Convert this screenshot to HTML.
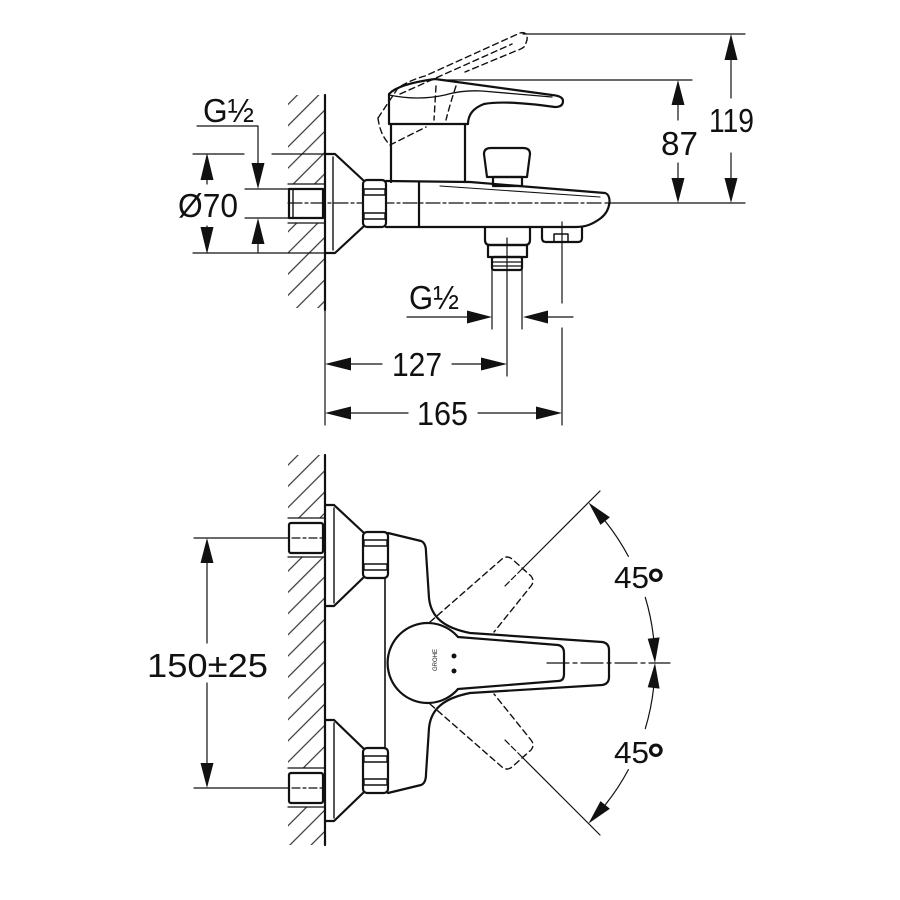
<!DOCTYPE html>
<html><head><meta charset="utf-8"><style>
html,body{margin:0;padding:0;background:#fff;}
svg{display:block;}
text{font-family:"Liberation Sans",Arial,sans-serif;fill:#111;}
</style></head><body>
<svg width="900" height="900" viewBox="0 0 900 900" xmlns="http://www.w3.org/2000/svg">
<defs>
<pattern id="h" width="15" height="15" patternUnits="userSpaceOnUse" patternTransform="rotate(45)">
<line x1="7.5" y1="0" x2="7.5" y2="15" stroke="#333" stroke-width="1.2"/>
</pattern>
</defs>
<rect width="900" height="900" fill="#fff"/>

<!-- hatching -->
<g fill="url(#h)">
<rect x="288" y="95" width="37" height="89"/>
<rect x="288" y="223" width="37" height="85"/>
<rect x="288" y="455" width="37" height="63"/>
<rect x="288" y="557" width="37" height="211"/>
<rect x="288" y="807" width="37" height="38"/>
</g>

<!-- ============ TOP VIEW ============ -->
<g stroke="#111" fill="none" stroke-linejoin="round" stroke-linecap="round">
<line x1="325" y1="95" x2="325" y2="310" stroke-width="2.2"/>
<line x1="325" y1="310" x2="325" y2="425" stroke-width="1.2"/>

<g stroke-width="1.2">
<path d="M197,126 L258,126 L258,166"/>
<line x1="258" y1="242" x2="258" y2="252"/>
<line x1="193" y1="154" x2="244" y2="154"/>
<line x1="272" y1="154" x2="325" y2="154"/>
<line x1="193" y1="253" x2="325" y2="253"/>
<line x1="245" y1="189" x2="289" y2="189"/>
<line x1="245" y1="218" x2="289" y2="218"/>
<line x1="288" y1="184" x2="325" y2="184"/>
<line x1="288" y1="223" x2="325" y2="223"/>
<line x1="207" y1="176" x2="207" y2="184"/>
<line x1="207" y1="226" x2="207" y2="232"/>
<line x1="523" y1="34" x2="745" y2="34"/>
<line x1="437" y1="80" x2="692" y2="80"/>
<line x1="605" y1="203" x2="745" y2="203"/>
<line x1="731" y1="58" x2="731" y2="98"/>
<line x1="731" y1="153" x2="731" y2="180"/>
<line x1="678" y1="103" x2="678" y2="120"/>
<line x1="678" y1="163" x2="678" y2="180"/>
<line x1="288" y1="203" x2="603" y2="203" stroke-dasharray="14 3 3 3"/>
<line x1="492" y1="263" x2="492" y2="329"/>
<line x1="522" y1="263" x2="522" y2="329"/>
<line x1="507" y1="238" x2="507" y2="376"/>
<line x1="562" y1="222" x2="562" y2="303"/>
<line x1="562" y1="328" x2="562" y2="425"/>
<line x1="407" y1="317" x2="470" y2="317"/>
<line x1="545" y1="317" x2="573" y2="317"/>
<line x1="348" y1="364" x2="382" y2="364"/>
<line x1="452" y1="364" x2="484" y2="364"/>
<line x1="348" y1="413" x2="408" y2="413"/>
<line x1="478" y1="413" x2="539" y2="413"/>
</g>

<g stroke-width="2.2">
<rect x="289" y="189" width="34" height="29"/>
<line x1="293" y1="190" x2="293" y2="217" stroke-width="1.4"/>
<path d="M325,154 L335,154 L363,180 M363,227 L335,253 L325,253"/>
<line x1="333" y1="157" x2="333" y2="250" stroke-width="1.4"/>
<rect x="363" y="180" width="23" height="47" rx="4" fill="#fff"/>
<g stroke-width="1.4">
<rect x="364" y="189" width="21" height="6"/>
<rect x="364" y="213" width="21" height="6"/>
</g>
<path d="M386,181 L470,182 L605,193 C612,195 611,210 601,218 C593,224 586,227 576,227 L386,227"/>
<line x1="419" y1="182" x2="419" y2="227"/>
<path d="M440,186 L600,197" stroke-width="1.1"/>
<path d="M391,182 L391,124 M465,124 L465,182"/>
<path d="M389,124 L389,94 Q398,84 435,79 L552,95 Q563,96 563,101 Q563,107 555,107 Q505,100 484,104 Q468,110 468,124 Z" fill="#fff"/>
<path d="M389,95 Q418,101 445,95 Q462,90 482,91 L552,97" stroke-width="1.3"/>
<path d="M487,177 L484,154 Q484,148 491,148 L523,148 Q530,148 530,154 L527,177 Z"/>
<rect x="493" y="177" width="29" height="9"/>
<path d="M485,227 L485,240 Q485,245 490,245 L525,245 Q530,245 530,240 L530,227"/>
<rect x="488" y="245" width="39" height="12"/>
<rect x="492" y="257" width="30" height="13" rx="2"/>
<line x1="492" y1="262" x2="522" y2="262" stroke-width="1.2"/>
<line x1="492" y1="266" x2="522" y2="266" stroke-width="1.2"/>
<path d="M542,227 L542,238 Q542,242 546,242 L578,242 Q582,242 582,238 L582,227"/>
<path d="M554,242 L554,234 L568,234 L568,242" stroke-width="1.5"/>
</g>

<g stroke-width="1.4" stroke-dasharray="6 4">
<path d="M378,118 L398,88 Q410,80 425,76 L520,33 Q528,31 527,40 L525,46 Q522,49 518,50 L465,72"/>
<path d="M400,94 L512,44"/>
<path d="M378,118 Q380,135 390,145 L426,127"/>
<path d="M436,86 L434,120"/>
<path d="M456,86 Q450,104 446,120"/>
</g>
</g>

<g fill="#111">
<polygon points="258,189 251.5,163 264.5,163"/>
<polygon points="258,218 251.5,244 264.5,244"/>
<polygon points="207,153 200.5,180 213.5,180"/>
<polygon points="207,254 200.5,227 213.5,227"/>
<polygon points="731,34 724.5,60 737.5,60"/>
<polygon points="731,203 724.5,178 737.5,178"/>
<polygon points="678,80 671.5,105 684.5,105"/>
<polygon points="678,203 671.5,178 684.5,178"/>
<polygon points="492,317 467,310.5 467,323.5"/>
<polygon points="523,317 548,310.5 548,323.5"/>
<polygon points="325,364 351,357.5 351,370.5"/>
<polygon points="507,364 481,357.5 481,370.5"/>
<polygon points="325,413 351,406.5 351,419.5"/>
<polygon points="562,413 536,406.5 536,419.5"/>
</g>

<g font-size="33">
<text x="203" y="122" textLength="51" lengthAdjust="spacingAndGlyphs">G½</text>
<text x="178" y="217" textLength="60" lengthAdjust="spacingAndGlyphs">Ø70</text>
<text x="709" y="132" textLength="45" lengthAdjust="spacingAndGlyphs">119</text>
<text x="661" y="155" textLength="37" lengthAdjust="spacingAndGlyphs">87</text>
<text x="409" y="309" textLength="50" lengthAdjust="spacingAndGlyphs">G½</text>
<text x="392" y="376" textLength="50" lengthAdjust="spacingAndGlyphs">127</text>
<text x="417" y="425" textLength="51" lengthAdjust="spacingAndGlyphs">165</text>
</g>

<!-- ============ BOTTOM VIEW ============ -->
<g stroke="#111" fill="none" stroke-linejoin="round" stroke-linecap="round">
<line x1="325" y1="455" x2="325" y2="845" stroke-width="2.2"/>

<g stroke-width="1.2">
<line x1="194" y1="538" x2="289" y2="538"/>
<line x1="194" y1="788" x2="289" y2="788"/>
<line x1="288" y1="518" x2="325" y2="518"/>
<line x1="288" y1="557" x2="325" y2="557"/>
<line x1="288" y1="768" x2="325" y2="768"/>
<line x1="288" y1="807" x2="325" y2="807"/>
<line x1="292" y1="538" x2="322" y2="538" stroke-dasharray="8 3 3 3"/>
<line x1="292" y1="788" x2="322" y2="788" stroke-dasharray="8 3 3 3"/>
<line x1="207" y1="560" x2="207" y2="643"/>
<line x1="207" y1="683" x2="207" y2="766"/>
<line x1="600" y1="491" x2="522" y2="569"/>
<line x1="522" y1="569" x2="505" y2="586" stroke-dasharray="6 3"/>
<line x1="600" y1="835" x2="522" y2="757"/>
<line x1="522" y1="757" x2="505" y2="740" stroke-dasharray="6 3"/>
<path d="M605.2,521.1 A227,227 0 0 1 628.4,556.4"/>
<path d="M645.3,597.4 A227,227 0 0 1 653.6,638.1"/>
<path d="M653.6,687.9 A227,227 0 0 1 645.3,728.6"/>
<path d="M628.4,769.6 A227,227 0 0 1 605.2,804.9"/>
<line x1="547" y1="663" x2="670" y2="663" stroke-dasharray="22 4 4 4"/>
<line x1="385" y1="578" x2="385" y2="748" stroke-width="1.6"/>
</g>

<g stroke-width="2.2">
<rect x="289" y="523" width="34" height="30" rx="2"/>
<rect x="289" y="773" width="34" height="30" rx="2"/>
<path d="M325,505 L334,505 L363,532 M363,578 L334,606 L325,606"/>
<line x1="334" y1="508" x2="334" y2="603" stroke-width="1.4"/>
<path d="M325,720 L334,720 L363,748 M363,793 L334,821 L325,821"/>
<line x1="334" y1="723" x2="334" y2="818" stroke-width="1.4"/>
<rect x="363" y="532" width="25" height="46" rx="4" fill="#fff"/>
<rect x="364" y="540" width="23" height="6" stroke-width="1.4"/>
<rect x="364" y="564" width="23" height="6" stroke-width="1.4"/>
<rect x="363" y="748" width="25" height="45" rx="4" fill="#fff"/>
<rect x="364" y="756" width="23" height="6" stroke-width="1.4"/>
<rect x="364" y="779" width="23" height="6" stroke-width="1.4"/>
<path d="M388,533 L421,541 Q426,543 426,552 L429,598 C431,618 445,628 470,633 L602,642 Q609,643 609,650 L609,677 Q609,684 602,685 L470,693 C445,698 431,708 429,728 L426,774 Q426,783 421,785 L388,793"/>
<path d="M458,637 L558,645 Q564,646 564,653 L564,674 Q564,681 558,681 L458,689 A40,40 0 1 1 458,637 Z"/>
</g>

<g stroke-width="1.4" stroke-dasharray="6 4">
<path d="M430,622 L502,559 Q507,555 512,559 L531,576 Q535,581 531,586 L494,632"/>
<path d="M430,704 L502,767 Q507,771 512,767 L531,750 Q535,745 531,740 L494,694"/>
</g>
</g>

<text x="0" y="0" font-size="6" fill="#666" transform="translate(437,671) rotate(-90)">GROHE</text>
<circle cx="454" cy="656" r="2.5" fill="#111"/>
<circle cx="454" cy="671" r="2.5" fill="#111"/>

<g fill="#111">
<polygon points="207,538 200.5,563 213.5,563"/>
<polygon points="207,788 200.5,763 213.5,763"/>
<polygon points="588.5,502.5 609.9,517.3 600.5,524.9"/>
<polygon points="655,663 659.6,637.4 647.7,638.8"/>
<polygon points="655,663 659.6,688.6 647.7,687.2"/>
<polygon points="588.5,823.5 609.9,808.7 600.5,801.1"/>
</g>

<text x="147" y="677" font-size="33" textLength="121" lengthAdjust="spacingAndGlyphs">150±25</text>
<text x="614" y="588" font-size="31" textLength="35" lengthAdjust="spacingAndGlyphs">45</text>
<text x="647" y="599" font-size="44" font-weight="bold">°</text>
<text x="614" y="763" font-size="31" textLength="35" lengthAdjust="spacingAndGlyphs">45</text>
<text x="647" y="774" font-size="44" font-weight="bold">°</text>
</svg>
</body></html>
